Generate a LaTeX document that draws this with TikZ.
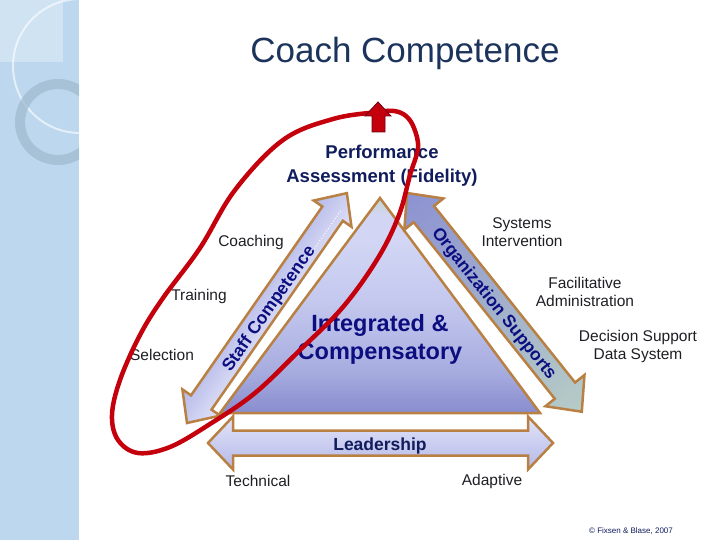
\documentclass[tikz,border=0pt]{standalone}
\usepackage{fontspec}
\setmainfont{Liberation Sans}

\definecolor{sidebar}{RGB}{189,215,238}
\definecolor{ringgray}{RGB}{158,184,206}
\definecolor{titleblue}{RGB}{28,52,92}
\definecolor{navy}{RGB}{12,14,128}
\definecolor{darknavy}{RGB}{16,28,92}
\definecolor{labelgray}{RGB}{30,30,36}
\definecolor{tan}{RGB}{184,128,66}
\definecolor{loopred}{RGB}{196,0,12}
\definecolor{darkred}{RGB}{110,0,24}
\definecolor{triTop}{RGB}{196,212,204}
\definecolor{triLight}{RGB}{210,214,244}
\definecolor{triMid}{RGB}{196,200,238}
\definecolor{triLow}{RGB}{168,173,224}
\definecolor{triBot}{RGB}{136,141,206}
\definecolor{lavDeep}{RGB}{140,146,210}
\definecolor{lavMid}{RGB}{180,184,232}
\definecolor{lavPale}{RGB}{226,228,248}
\definecolor{sage}{RGB}{182,204,198}

\pgfdeclareverticalshading{trishade}{100bp}{%
  color(0bp)=(triBot); color(25bp)=(triBot); color(35bp)=(triLow);
  color(51bp)=(triMid); color(65bp)=(triLight); color(71bp)=(triLight);
  color(75bp)=(triTop); color(100bp)=(triTop)}

% double headed block arrow from (0,0) to (#2,0)
% #3 shaft half width, #4 head half width, #5 head length
\newcommand{\blockarrow}[5][]{%
  \path[#1] (0,0) -- (#5,#4) -- (#5,#3) -- (#2-#5,#3) -- (#2-#5,#4) -- (#2,0)
    -- (#2-#5,-#4) -- (#2-#5,-#3) -- (#5,-#3) -- (#5,-#4) -- cycle;}

\begin{document}
\begin{tikzpicture}
  [ x=1pt, y=-1pt,
    lbl/.style={
      font=\fontsize{15.5}{18}\selectfont,
      text=labelgray,
      align=center,
      inner sep=0pt},
    headline/.style={
      font=\bfseries\fontsize{18.5}{24}\selectfont,
      text=darknavy,
      align=center,
      inner sep=0pt},
    arrowtext/.style={
      font=\bfseries\fontsize{17.5}{20}\selectfont,
      text=navy,
      text height=12.5pt,
      text depth=0pt,
      inner sep=0pt},
    blockedge/.style={
      draw=tan,
      line width=2.5pt,
      line join=miter},
  ]

  \useasboundingbox (0,0) rectangle (720,540);

  % side band with its rings
  \fill[sidebar] (0,0) rectangle (79,540);
  \begin{scope}
    \clip (0,0) rectangle (79,540);
    \fill[white, opacity=.3] (0,0) rectangle (63,62);
    \draw[white, opacity=.6, line width=2pt] (80,66) circle[radius=67];
    \draw[ringgray, opacity=.7, line width=10pt] (58,122) circle[radius=38];
  \end{scope}

  \node[font=\fontsize{35}{40}\selectfont, text=titleblue] (title) at (405,53) {Coach Competence};

  % triangle
  \coordinate (left) at (220,413);
  \coordinate (apex) at (380,198);
  \coordinate (right) at (540,413);
  \shadedraw[blockedge, shading=trishade] (left) -- (apex) -- (right) -- cycle;

  % staff competence arrow
  \begin{scope}[transform canvas={shift={(187,423)}, rotate=55.18}]
    \blockarrow[blockedge, top color=lavMid, bottom color=lavPale]{280}{12.5}{23}{25}
    \draw[white, dotted, line width=1pt] (262,5) -- (160,5);
  \end{scope}

  % organization supports arrow
  \begin{scope}[transform canvas={shift={(407,193)}, rotate=-51.37}]
    \blockarrow[blockedge, left color=lavDeep, middle color=lavPale,
      right color=sage]{280}{13}{25}{27}
  \end{scope}

  % leadership arrow
  \begin{scope}[shift={(208,443)}]
    \blockarrow[blockedge, top color=lavPale, bottom color=lavMid]{345}{12.5}{26.5}{25}
  \end{scope}

  \node[arrowtext, rotate=55.18] (staff) at (268,308) {Staff Competence};
  \node[arrowtext, rotate=-51.37] (org) at (495,303) {Organization Supports};
  \node[arrowtext, text=darknavy] (lead) at (380,444) {Leadership};

  \node[headline] (perf) at (382,166) {Performance\\Assessment (Fidelity)};
  \node[headline, font=\bfseries\fontsize{23.5}{28}\selectfont, text=navy] (integ) at (380,339) {Integrated \&\\Compensatory};

  \node[lbl] (coaching) at (251,242) {Coaching};
  \node[lbl] (training) at (199,296) {Training};
  \node[lbl] (selection) at (162,355) {Selection};
  \node[lbl] (sysint) at (522,232) {Systems\\Intervention};
  \node[lbl] (facadmin) at (585,292) {Facilitative\\Administration};
  \node[lbl] (dss) at (638,346) {Decision Support\\Data System};
  \node[lbl] (technical) at (258,481) {Technical};
  \node[lbl] (adaptive) at (492,481) {Adaptive};

  \node[font=\fontsize{8}{9}\selectfont, text=darknavy] (credit) at (631,531) {\textcopyright{} Fixsen \& Blase, 2007};

  % red loop and its arrow
  \draw[loopred, line width=4.5pt] plot[smooth cycle, tension=0.6] coordinates {
    (378,112) (394,111) (406,116) (414,128) (418,148) (410,175) (399,215)
    (378,258) (343,307) (300,350) (255,393) (210,424) (170,447) (138,453)
    (118,440) (112,415) (120,380) (140,335) (163,298) (200,248) (235,190)
    (283,140) (333,119)};
  \filldraw[fill=loopred, draw=darkred, line width=.8pt]
    (378,102) -- (391,116) -- (385,116) -- (385,132) -- (372,132) -- (372,116) -- (365,116) -- cycle;

\end{tikzpicture}
\end{document}
